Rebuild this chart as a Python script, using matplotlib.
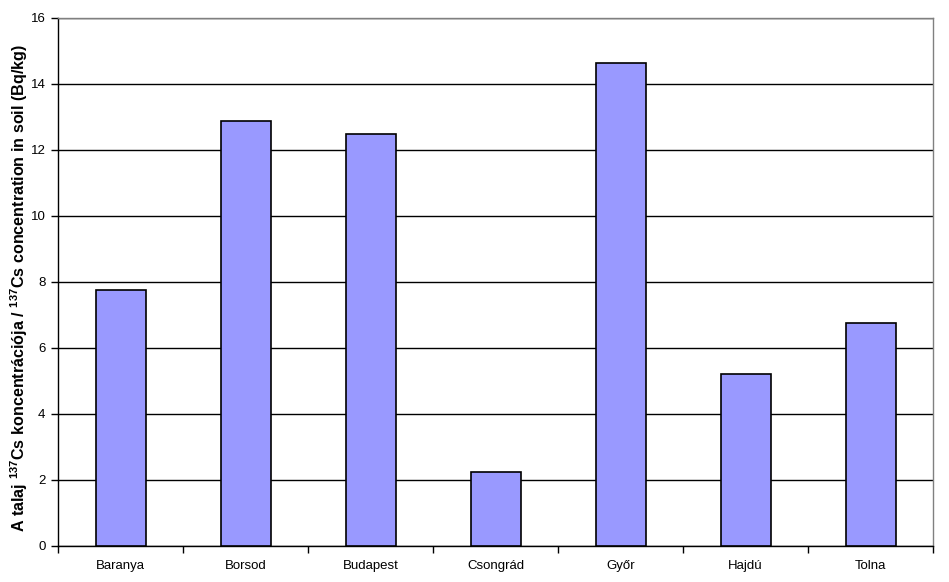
import matplotlib
matplotlib.use("Agg")
import matplotlib.pyplot as plt
import numpy as np

categories = ["Baranya", "Borsod", "Budapest", "Csongrád", "Győr", "Hajdú", "Tolna"]
values = [7.76, 12.87, 12.47, 2.23, 14.64, 5.20, 6.75]
yticks = [0, 2, 4, 6, 8, 10, 12, 14, 16]

plt.rcParams['font.family'] = ['Liberation Sans', 'DejaVu Sans']
plt.rcParams['mathtext.fontset'] = 'custom'
plt.rcParams['mathtext.rm'] = 'Liberation Sans'
plt.rcParams['mathtext.bf'] = 'Liberation Sans:bold'

fig = plt.figure(figsize=(9.49, 5.82), dpi=100)
W, H = 949, 582
ax = fig.add_axes([58 / W, 1 - 546 / H, 875 / W, 528 / H])

x = np.arange(len(categories))
ax.bar(x, values, width=0.4, color="#9999FF", edgecolor="#000000", linewidth=1.2, zorder=3)

ax.set_xlim(-0.5, len(categories) - 0.5)
ax.set_ylim(0, 16)
ax.set_yticks(yticks)
ax.set_yticklabels([str(v) for v in yticks], fontsize=9.5)
ax.yaxis.grid(True, color="black", linewidth=1.0, zorder=0)
ax.set_axisbelow(True)

ax.set_xticks(x)
ax.set_xticklabels(categories, fontsize=9.5)
ax.set_xticks(np.arange(-0.5, len(categories)), minor=True)
ax.tick_params(axis='x', which='major', length=0, pad=10)
ax.tick_params(axis='x', which='minor', length=5, width=1, direction='out')
ax.tick_params(axis='y', length=5, width=1, direction='out', pad=4)

for s in ['left', 'bottom']:
    ax.spines[s].set_color('black')
    ax.spines[s].set_linewidth(1.0)
for s in ['right', 'top']:
    ax.spines[s].set_color('#808080')
    ax.spines[s].set_linewidth(1.0)

ylab = ax.set_ylabel(r"A talaj $\mathbf{^{137}}$Cs koncentrációja / $\mathbf{^{137}}$Cs concentration in soil (Bq/kg)",
                     fontsize=11.6, fontweight='bold', va='center')
ax.yaxis.set_label_coords(-39 / 875, 0.489)

fig.savefig("out.png", dpi=100)
